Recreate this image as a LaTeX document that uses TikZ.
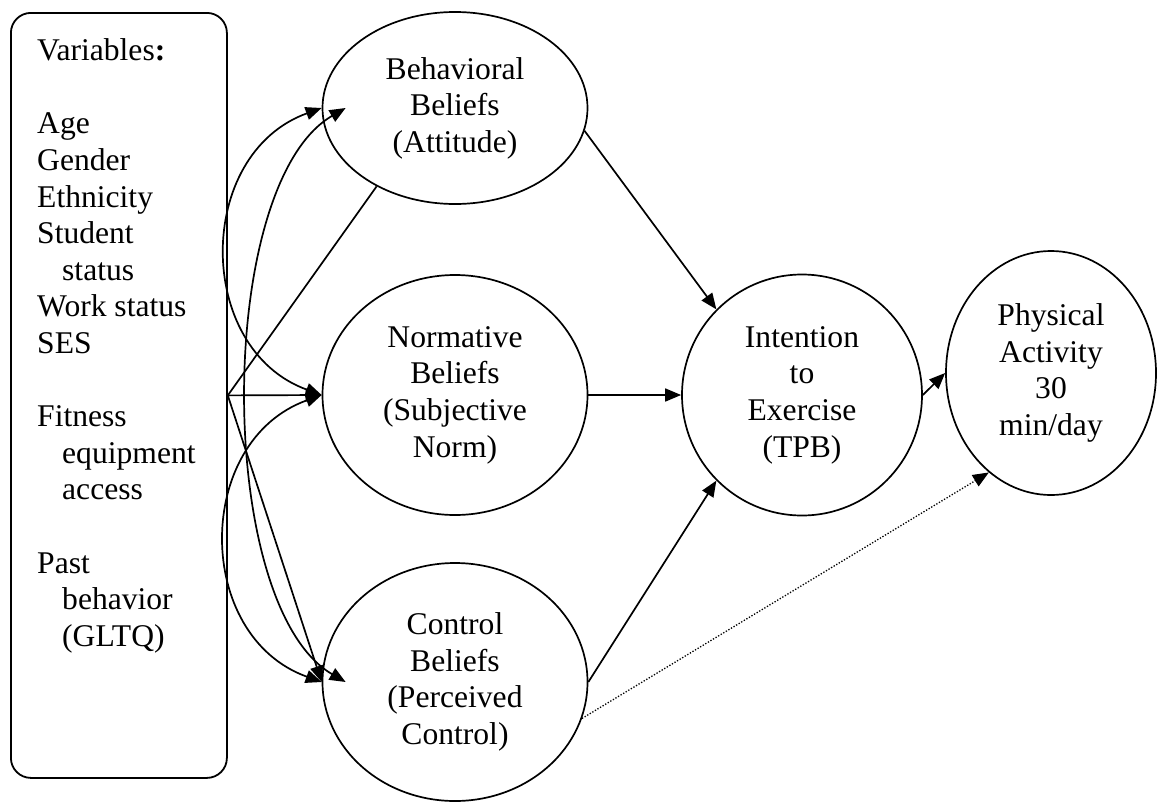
\documentclass[tikz,border=0pt]{standalone}
\usepackage{fontspec}
\setmainfont{Liberation Serif}
\usetikzlibrary{arrows.meta,shapes.geometric,calc}
\begin{document}
\begin{tikzpicture}[x=1pt,y=-1pt,
  every node/.style={font=\fontsize{31.6}{36.6}\selectfont},
  ell/.style={ellipse,draw,line width=1.7pt,inner sep=0pt,align=center},
  varbox/.style={draw,line width=1.8pt,rounded corners=20pt,inner sep=0pt},
  conn/.style={line width=1.7pt},
  tip/.style={-{Triangle[length=16pt,width=13pt]}},
  dtip/.style={{Triangle[length=16pt,width=13pt]}-{Triangle[length=16pt,width=13pt]}},
  dots/.style={line width=1.3pt,dash pattern=on 1.3pt off 1.7pt}]
\useasboundingbox (0,0) rectangle (1157,801);
\fill[white] (0,0) rectangle (1157,801);

% variables box
\node[varbox, minimum width=216pt, minimum height=765pt, anchor=north west] (vars) at (10,12) {};
\node[anchor=north west, inner sep=0pt, align=left] (varlist) at (37,38.5)
  {Variables\textbf{:}\\[36.6pt]
   Age\\
   Gender\\
   Ethnicity\\
   Student\\
   \hspace*{25pt}status\\
   Work status\\
   SES\\[36.6pt]
   Fitness\\
   \hspace*{25pt}equipment\\
   \hspace*{25pt}access\\[36.6pt]
   Past\\
   \hspace*{25pt}behavior\\
   \hspace*{25pt}(GLTQ)};

% ellipses
\node[ell, minimum width=265pt, minimum height=192pt] (beh) at (455,108) {Behavioral\\Beliefs\\(Attitude)};
\node[ell, minimum width=265pt, minimum height=240pt] (nor) at (455,395) {Normative\\Beliefs\\(Subjective\\Norm)};
\node[ell, minimum width=265pt, minimum height=238pt] (ctl) at (455,682) {Control\\Beliefs\\(Perceived\\Control)};
\node[ell, minimum width=240pt, minimum height=241pt] (int) at (802,395) {Intention\\to\\Exercise\\(TPB)};
\node[ell, minimum width=210pt, minimum height=244pt] (phy) at (1051,373) {Physical\\Activity\\30\\min/day};

\coordinate (behIn) at ($(beh.west)+(24,0)$);
\coordinate (ctlIn) at ($(ctl.west)+(24,0)$);

% connectors from the variables box
\draw[conn] (vars.east) -- (beh.225);
\draw[conn,tip] (vars.east) -- (nor.west);
\draw[conn,tip] (vars.east) -- (ctl.west);

% curved double-headed arrows
\draw[conn,dtip] (beh.west) .. controls ($(beh.west)+(-127,46)$) and ($(nor.west)+(-127,-46)$) .. (nor.west);
\draw[conn,dtip] (nor.west) .. controls ($(nor.west)+(-128,46)$) and ($(ctl.west)+(-128,-46)$) .. (ctl.west);
\draw[conn,dtip] (behIn) .. controls ($(behIn)+(-131,76)$) and ($(ctlIn)+(-131,-76)$) .. (ctlIn);

% to intention and physical activity
\draw[conn,tip] (beh.-10) -- (int.135);
\draw[conn,tip] (nor.east) -- (int.west);
\draw[conn,tip] (ctl.east) -- (int.225);
\draw[conn,tip] (int.east) -- (phy.west);
\draw[dots,tip] (ctl.-16) -- (phy.238);
\end{tikzpicture}
\end{document}
